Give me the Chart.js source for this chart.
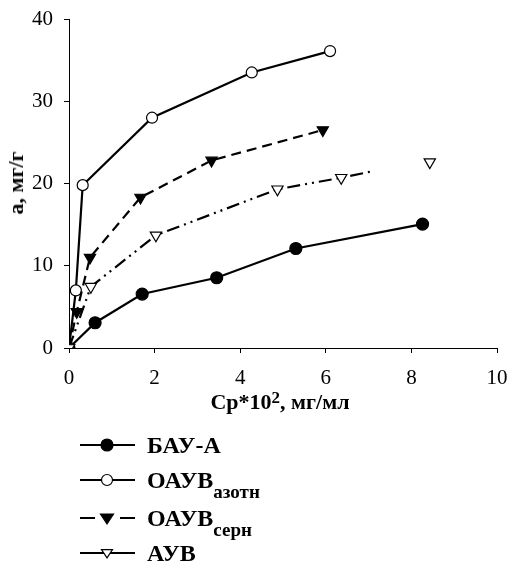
<!DOCTYPE html>
<html>
<head>
<meta charset="utf-8">
<script src="https://cdn.jsdelivr.net/npm/chart.js@4/dist/chart.umd.min.js"></script>
<style>
  html, body { margin: 0; padding: 0; background: #fff; }
  #wrap { position: relative; width: 509px; height: 562px; overflow: hidden; font-family: "Liberation Serif", "Times New Roman", serif; }
  #c { position: absolute; left: 0; top: 0; }
  .ttl { position: absolute; font-weight: bold; font-size: 22px; color: #000; white-space: nowrap; line-height: 26px; }
  #ytitle { left: 16px; top: 183px; transform: translate(-50%, -50%) rotate(-90deg); }
  #xtitle { left: 280px; top: 402px; transform: translate(-50%, -50%); }
  #xtitle sup { font-size: 17px; vertical-align: 6px; line-height: 0; }
  .row { position: absolute; left: 78px; height: 26px; }
  .row svg { position: absolute; left: 0; top: 0; }
  .row .lab { position: absolute; left: 69px; top: 0; font-weight: bold; font-size: 24px; line-height: 26px; white-space: nowrap; color: #000; }
  .row .lab sub { font-size: 19px; vertical-align: -10px; line-height: 0; }
</style>
</head>
<body>
<div id="wrap">
  <canvas id="c" width="509" height="562"></canvas>
  <div id="ytitle" class="ttl">а, мг/г</div>
  <div id="xtitle" class="ttl">Ср*10<sup>2</sup>, мг/мл</div>
  <div id="legend"></div>
</div>
<script>
// ---- data ----
const xTicks = [0, 2, 4, 6, 8, 10];
const yTicks = [0, 10, 20, 30, 40];

const bauA_x = [0, 0.61, 1.71, 3.45, 5.30, 8.26];
const bauA_y = [0, 3.07, 6.56, 8.54, 12.1, 15.07];

const oauvAzot_x = [0, 0.16, 0.32, 1.94, 4.27, 6.10];
const oauvAzot_y = [0, 7.0, 19.8, 28.0, 33.5, 36.1];

const oauvSern_x = [0, 0.18, 0.49, 1.67, 3.33, 5.93];
const oauvSern_y = [0, 4.4, 11.0, 18.3, 22.8, 26.5];

// line runs on to 7.1 (no marker), then one separate marker at 8.43
const auv_x = [0, 0.51, 2.03, 4.87, 6.36, 7.10, 7.70, 8.43];
const auv_y = [0, 7.45, 13.7, 19.3, 20.7, 21.5, null, 22.6];
const auv_marker = [1, 1, 1, 1, 1, 0, 0, 1];

const seriesNames = ['БАУ-А', 'ОАУВ', 'ОАУВ', 'АУВ'];
const seriesSubs = ['', 'азотн', 'серн', ''];

function pts(xs, ys) { return xs.map((x, i) => ({ x: x, y: ys[i] })); }

const styles = [
  { pointStyle: 'circle', radius: 6, fill: '#000', rot: 0, dash: [] },
  { pointStyle: 'circle', radius: 5.5, fill: '#fff', rot: 0, dash: [] },
  { pointStyle: 'triangle', radius: 6.5, fill: '#000', rot: 180, dash: [10, 6] },
  { pointStyle: 'triangle', radius: 6.5, fill: '#fff', rot: 180, dash: [13, 5, 2, 5, 2, 5] }
];

const datasets = [
  { data: pts(bauA_x, bauA_y) },
  { data: pts(oauvAzot_x, oauvAzot_y) },
  { data: pts(oauvSern_x, oauvSern_y) },
  { data: pts(auv_x, auv_y), pointRadius: auv_marker.map(m => m ? styles[3].radius : 0) }
].map((d, i) => {
  const s = styles[i];
  return Object.assign({
    showLine: true,
    spanGaps: false,
    borderColor: '#000',
    borderWidth: 2.2,
    borderDash: s.dash,
    pointStyle: s.pointStyle,
    pointRadius: s.radius,
    pointRotation: s.rot,
    pointBackgroundColor: s.fill,
    pointBorderColor: '#000',
    pointBorderWidth: 1.2,
    pointHoverRadius: s.radius,
    tension: 0,
    order: 4 - i
  }, d);
});

const tickFont = { family: 'Liberation Serif', size: 21 };

new Chart(document.getElementById('c'), {
  type: 'scatter',
  data: { datasets: datasets },
  options: {
    responsive: false,
    animation: false,
    events: [],
    layout: { padding: { left: 0, right: 12, top: 19, bottom: 0 } },
    plugins: { legend: { display: false }, tooltip: { enabled: false } },
    scales: {
      x: {
        type: 'linear', min: xTicks[0], max: xTicks[xTicks.length - 1],
        afterBuildTicks: s => { s.ticks = xTicks.map(v => ({ value: v })); },
        ticks: { color: '#000', font: tickFont, padding: 13, maxRotation: 0 },
        grid: { drawOnChartArea: false, color: '#000', tickLength: 5, lineWidth: 1 },
        border: { color: '#000', width: 1 },
        afterFit: s => { s.height = 214; s.paddingLeft = 0; s.paddingRight = 0; }
      },
      y: {
        type: 'linear', min: yTicks[0], max: yTicks[yTicks.length - 1],
        afterBuildTicks: s => { s.ticks = yTicks.map(v => ({ value: v })); },
        ticks: { color: '#000', font: tickFont, padding: 11 },
        grid: { drawOnChartArea: false, color: '#000', tickLength: 5, lineWidth: 1 },
        border: { color: '#000', width: 1 },
        afterFit: s => { s.width = 69; s.paddingTop = 0; s.paddingBottom = 0; }
      }
    }
  }
});

// ---- HTML legend ----
const rowY = [445, 480, 518, 553];
const legend = document.getElementById('legend');
styles.forEach((s, i) => {
  const row = document.createElement('div');
  row.className = 'row';
  row.style.top = (rowY[i] - 13) + 'px';
  let line;
  if (i === 2) {
    line = '<line x1="2" y1="13" x2="17" y2="13" stroke="#000" stroke-width="2"/><line x1="42" y1="13" x2="57" y2="13" stroke="#000" stroke-width="2"/>';
  } else {
    line = '<line x1="2" y1="13" x2="57" y2="13" stroke="#000" stroke-width="2"/>';
  }
  let mark;
  if (s.pointStyle === 'circle') {
    mark = '<circle cx="29" cy="13" r="' + (i === 0 ? 6 : 5.5) + '" fill="' + s.fill + '" stroke="#000" stroke-width="1.2"/>';
  } else {
    const r = i === 2 ? 6.5 : 5.5;
    mark = '<polygon points="' + (29 - r) + ',' + (13 - r * 0.6) + ' ' + (29 + r) + ',' + (13 - r * 0.6) + ' 29,' + (13 + r * 0.9) + '" fill="' + s.fill + '" stroke="#000" stroke-width="1.2"/>';
  }
  row.innerHTML = '<svg width="60" height="26">' + line + mark + '</svg>' +
    '<div class="lab">' + seriesNames[i] + (seriesSubs[i] ? '<sub>' + seriesSubs[i] + '</sub>' : '') + '</div>';
  legend.appendChild(row);
});
</script>
</body>
</html>
